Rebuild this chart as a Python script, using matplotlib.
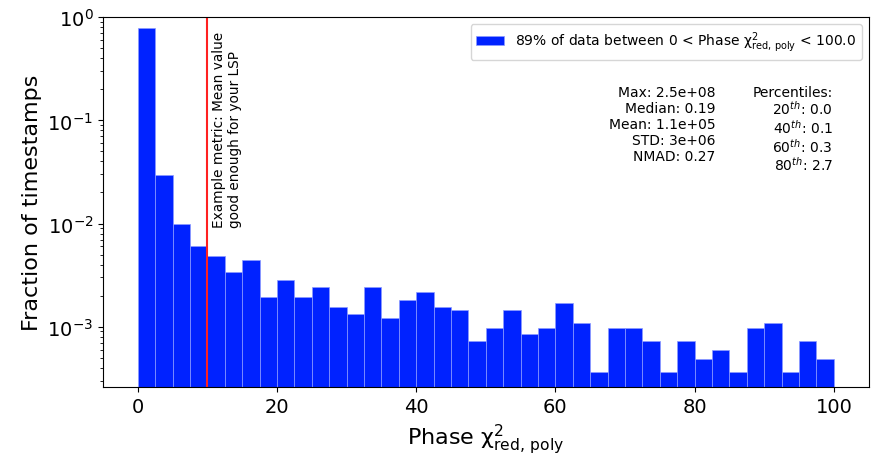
import matplotlib
matplotlib.use("Agg")
import matplotlib.pyplot as plt
import numpy as np

# -----------------------------------------------------------------------
# Histogram values (40 bins, width 2.5, 0..100)
# -----------------------------------------------------------------------
bin_edges = np.linspace(0, 100, 41)
fractions = [
    0.787, 0.0293, 0.0100, 0.00603, 0.00482, 0.00337, 0.00440, 0.00192,
    0.00286, 0.00192, 0.00240, 0.00156, 0.00132, 0.00240, 0.00121, 0.00180,
    0.00216, 0.00156, 0.00145, 0.00073, 0.00097, 0.00145, 0.00085, 0.00097,
    0.00170, 0.00109, 0.000363, 0.00097, 0.00097, 0.00073, 0.000363, 0.00073,
    0.000489, 0.00060, 0.000363, 0.00097, 0.00109, 0.000363, 0.00073, 0.000489,
]
metric_value = 10.0

stats_lines = ["Max: 2.5e+08", "Median: 0.19", "Mean: 1.1e+05",
               "STD: 3e+06", "NMAD: 0.27"]
pct_labels = ["20", "40", "60", "80"]
pct_values = ["0.0", "0.1", "0.3", "2.7"]

plt.rcParams["mathtext.default"] = "regular"
CHI = r"$\chi^2_{red,\,poly}$"

# -----------------------------------------------------------------------
# Figure
# -----------------------------------------------------------------------
fig, ax = plt.subplots(figsize=(8.73, 4.56), dpi=100)
fig.subplots_adjust(left=0.118, right=0.995, top=0.96, bottom=0.149)

centers = 0.5 * (bin_edges[:-1] + bin_edges[1:])
ax.hist(centers, bins=bin_edges, weights=fractions, color="#0022ff",
        edgecolor="#8c9bff", linewidth=0.5,
        label=f"89% of data between 0 < Phase {CHI} < 100.0")
ax.set_yscale("log")
ax.set_ylim(2.6e-4, 1.0)
ax.set_xlim(-5, 105)

ax.axvline(metric_value, color="#ff2020", linewidth=1.5)
ax.text(metric_value + 0.6, 0.0093,
        "Example metric: Mean value\ngood enough for your LSP",
        rotation=90, ha="left", va="bottom", fontsize=9.8)

ax.text(0.80, 0.818, "\n".join(stats_lines), transform=ax.transAxes,
        ha="right", va="top", multialignment="right", fontsize=10)
pct_text = "Percentiles:\n" + "\n".join(
    rf"{p}$^{{\mathit{{th}}}}$: {v}" for p, v in zip(pct_labels, pct_values))
ax.text(0.953, 0.818, pct_text, transform=ax.transAxes,
        ha="right", va="top", multialignment="right", fontsize=10,
        linespacing=1.05)

ax.set_xlabel(f"Phase {CHI}", fontsize=16)
ax.set_ylabel("Fraction of timestamps", fontsize=16)
ax.tick_params(axis="both", labelsize=14)
ax.legend(loc="upper right", fontsize=10)

plt.savefig("out.png", dpi=100)
plt.close()
